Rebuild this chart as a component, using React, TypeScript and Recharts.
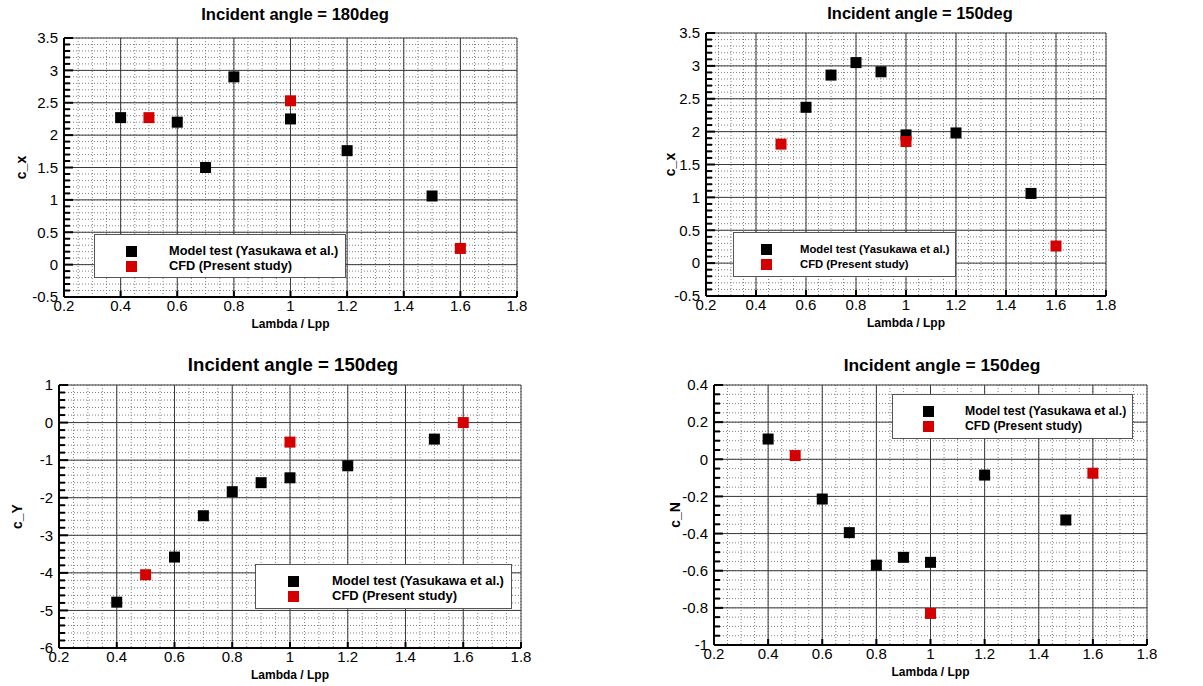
import React from "react";
import {
  ScatterChart,
  Scatter,
  XAxis,
  YAxis,
  CartesianGrid,
  ReferenceLine,
  Legend,
} from "recharts";

const FONT = '"Liberation Sans", Arial, sans-serif';
const RED = "#d40000";
const MODEL_NAME = "Model test (Yasukawa et al.)";
const CFD_NAME = "CFD (Present study)";
const seriesOrder = [MODEL_NAME, CFD_NAME];

// lambda / Lpp values and coefficients
const modelLambdaCx180 = [0.4, 0.6, 0.7, 0.8, 1.0, 1.2, 1.5];
const modelCx180 = [2.27, 2.2, 1.5, 2.9, 2.25, 1.76, 1.06];
const cfdLambda = [0.5, 1.0, 1.6];
const cfdCx180 = [2.27, 2.53, 0.25];

const modelLambdaCx150 = [0.6, 0.7, 0.8, 0.9, 1.0, 1.2, 1.5];
const modelCx150 = [2.37, 2.86, 3.05, 2.91, 1.95, 1.98, 1.06];
const cfdCx150 = [1.81, 1.85, 0.26];

const modelLambda150 = [0.4, 0.6, 0.7, 0.8, 0.9, 1.0, 1.2, 1.5];
const modelCy150 = [-4.78, -3.58, -2.48, -1.84, -1.6, -1.47, -1.15, -0.44];
const cfdCy150 = [-4.05, -0.52, 0.0];
const modelCn150 = [0.109, -0.214, -0.395, -0.57, -0.528, -0.555, -0.085, -0.327];
const cfdCn150 = [0.02, -0.83, -0.075];

// tick labels
const xMajorTicks = [0.2, 0.4, 0.6, 0.8, 1, 1.2, 1.4, 1.6, 1.8];
const cxMajorTicks = [-0.5, 0, 0.5, 1, 1.5, 2, 2.5, 3, 3.5];
const cyMajorTicks = [-6, -5, -4, -3, -2, -1, 0, 1];
const cnMajorTicks = [-1, -0.8, -0.6, -0.4, -0.2, 0, 0.2, 0.4];

const steps = (from: number, to: number, step: number) => {
  const out: number[] = [];
  const n = Math.round((to - from) / step);
  for (let i = 0; i <= n; i++) out.push(Number((from + i * step).toFixed(3)));
  return out;
};
const xMinorTicks = steps(0.2, 1.8, 0.05);

const isIn = (list: number[], v: number) => list.some((m) => Math.abs(m - v) < 1e-6);

const square = (props: any) => (
  <rect x={props.cx - 5.5} y={props.cy - 5.5} width={11} height={11} fill={props.fill} />
);

const renderXTick = (props: any) => {
  const { x, y, payload } = props;
  if (!isIn(xMajorTicks, payload.value)) return <g />;
  return (
    <g>
      <line x1={x} x2={x} y1={y} y2={y - 6} stroke="#000" strokeWidth={2} />
      <text x={x} y={y + 14} textAnchor="middle" fontSize={15} fontFamily={FONT} fill="#000">
        {String(payload.value)}
      </text>
    </g>
  );
};

const renderYTick = (props: any, major: number[]) => {
  const { x, y, payload } = props;
  const isMajor = isIn(major, payload.value);
  return (
    <g>
      <line x1={x} x2={x + (isMajor ? 9 : 6)} y1={y} y2={y} stroke="#000" strokeWidth={2} />
      {isMajor && (
        <text x={x - 6} y={y} dy="0.35em" textAnchor="end" fontSize={15} fontFamily={FONT} fill="#000">
          {String(payload.value)}
        </text>
      )}
    </g>
  );
};

interface LegendCfg {
  x: number;
  y: number;
  w: number;
  h: number;
  marker: number;
  text: number;
  fontSize: number;
}

interface PanelCfg {
  title: string;
  titleX: number;
  titleY: number;
  titleSize: number;
  yLabel: string;
  yLabelGap: number;
  modelX: number[];
  modelY: number[];
  cfdX: number[];
  cfdY: number[];
  yDomain: [number, number];
  yMajor: number[];
  yMinor: number[];
  left: number;
  top: number;
  width: number;
  height: number;
  plotTop: number;
  right: number;
  yAxisWidth: number;
  xAxisHeight: number;
  legend: LegendCfg;
}

function Panel(p: PanelCfg) {
  const modelData = p.modelX.map((x, i) => ({ x, y: p.modelY[i] }));
  const cfdData = p.cfdX.map((x, i) => ({ x, y: p.cfdY[i] }));
  const lg = p.legend;

  const legendContent = (props: any) => {
    const items = [...(props.payload || [])].sort(
      (a: any, b: any) => seriesOrder.indexOf(a.value) - seriesOrder.indexOf(b.value)
    );
    return (
      <div
        style={{
          position: "relative",
          width: lg.w,
          height: lg.h,
          boxSizing: "border-box",
          border: "1px solid #555",
          background: "#fff",
          fontFamily: FONT,
          fontWeight: "bold",
          fontSize: lg.fontSize,
        }}
      >
        {items.map((entry: any, i: number) => (
          <React.Fragment key={i}>
            <div
              style={{
                position: "absolute",
                left: lg.marker - 5.5,
                top: 11 + i * 15,
                width: 11,
                height: 11,
                background: entry.color,
              }}
            />
            <div
              style={{
                position: "absolute",
                left: lg.text,
                top: 8 + i * 15,
                lineHeight: "16px",
                whiteSpace: "nowrap",
              }}
            >
              {entry.value}
            </div>
          </React.Fragment>
        ))}
      </div>
    );
  };

  return (
    <div style={{ position: "absolute", left: p.left, top: p.top, width: p.width, height: p.height }}>
      <div
        style={{
          position: "absolute",
          left: p.titleX - 200,
          top: p.titleY - 11,
          width: 400,
          textAlign: "center",
          lineHeight: "22px",
          fontFamily: FONT,
          fontWeight: "bold",
          fontSize: p.titleSize,
          zIndex: 2,
        }}
      >
        {p.title}
      </div>
      <ScatterChart
        width={p.width}
        height={p.height}
        margin={{ top: p.plotTop, right: p.right, left: 0, bottom: 0 }}
      >
        <CartesianGrid stroke="#808080" strokeDasharray="1 2" />
        {xMajorTicks.map((v) => (
          <ReferenceLine key={"vx" + v} x={v} stroke="#3a3a3a" strokeWidth={1} />
        ))}
        {p.yMajor.map((v) => (
          <ReferenceLine key={"hy" + v} y={v} stroke="#3a3a3a" strokeWidth={1} />
        ))}
        <XAxis
          type="number"
          dataKey="x"
          domain={[0.2, 1.8]}
          ticks={xMinorTicks}
          interval={0}
          tick={renderXTick}
          tickLine={false}
          tickSize={0}
          tickMargin={0}
          height={p.xAxisHeight}
          axisLine={{ stroke: "#000", strokeWidth: 2 }}
          label={(lp: any) => {
            const vb = lp.viewBox;
            return (
              <text
                x={vb.x + vb.width / 2}
                y={vb.y + 31}
                textAnchor="middle"
                fontFamily={FONT}
                fontWeight="bold"
                fontSize={12}
                fill="#000"
              >
                Lambda / Lpp
              </text>
            );
          }}
        />
        <YAxis
          type="number"
          dataKey="y"
          domain={p.yDomain}
          ticks={p.yMinor}
          interval={0}
          tick={(tp: any) => renderYTick(tp, p.yMajor)}
          tickLine={false}
          tickSize={0}
          tickMargin={0}
          width={p.yAxisWidth}
          axisLine={{ stroke: "#000", strokeWidth: 2 }}
          label={(lp: any) => {
            const vb = lp.viewBox;
            const cx = vb.x + vb.width - p.yLabelGap;
            const cy = vb.y + vb.height / 2;
            return (
              <text
                x={cx}
                y={cy}
                dy="0.35em"
                transform={`rotate(-90 ${cx} ${cy})`}
                textAnchor="middle"
                fontFamily={FONT}
                fontWeight="bold"
                fontSize={14}
                fill="#000"
              >
                {p.yLabel}
              </text>
            );
          }}
        />
        <Legend
          layout="vertical"
          align="center"
          verticalAlign="middle"
          wrapperStyle={{ left: lg.x, top: lg.y, width: lg.w, height: lg.h }}
          content={legendContent}
        />
        <Scatter
          name={MODEL_NAME}
          data={modelData}
          fill="#000"
          shape={square}
          isAnimationActive={false}
        />
        <Scatter
          name={CFD_NAME}
          data={cfdData}
          fill={RED}
          shape={square}
          isAnimationActive={false}
        />
      </ScatterChart>
    </div>
  );
}

export default function App() {
  return (
    <div
      style={{
        position: "absolute",
        left: 0,
        top: 0,
        width: 1203,
        height: 686,
        background: "#fff",
        overflow: "hidden",
      }}
    >
      <Panel
        title="Incident angle = 180deg"
        titleX={295}
        titleY={15}
        titleSize={16.6}
        yLabel="c_x"
        yLabelGap={43}
        modelX={modelLambdaCx180}
        modelY={modelCx180}
        cfdX={cfdLambda}
        cfdY={cfdCx180}
        yDomain={[-0.5, 3.5]}
        yMajor={cxMajorTicks}
        yMinor={steps(-0.5, 3.5, 0.1)}
        left={0}
        top={0}
        width={600}
        height={335}
        plotTop={38}
        right={83}
        yAxisWidth={64}
        xAxisHeight={38}
        legend={{ x: 94, y: 234, w: 252, h: 44, marker: 36, text: 74, fontSize: 12.8 }}
      />
      <Panel
        title="Incident angle = 150deg"
        titleX={320}
        titleY={13}
        titleSize={16.4}
        yLabel="c_x"
        yLabelGap={36}
        modelX={modelLambdaCx150}
        modelY={modelCx150}
        cfdX={cfdLambda}
        cfdY={cfdCx150}
        yDomain={[-0.5, 3.5]}
        yMajor={cxMajorTicks}
        yMinor={steps(-0.5, 3.5, 0.1)}
        left={600}
        top={0}
        width={603}
        height={335}
        plotTop={33}
        right={97}
        yAxisWidth={106}
        xAxisHeight={39}
        legend={{ x: 133, y: 232, w: 223, h: 45, marker: 32, text: 66, fontSize: 11.3 }}
      />
      <Panel
        title="Incident angle = 150deg"
        titleX={293}
        titleY={30}
        titleSize={18.6}
        yLabel="c_Y"
        yLabelGap={42}
        modelX={modelLambda150}
        modelY={modelCy150}
        cfdX={cfdLambda}
        cfdY={cfdCy150}
        yDomain={[-6, 1]}
        yMajor={cyMajorTicks}
        yMinor={steps(-6, 1, 0.2)}
        left={0}
        top={335}
        width={600}
        height={351}
        plotTop={50}
        right={79}
        yAxisWidth={59}
        xAxisHeight={38}
        legend={{ x: 255, y: 229, w: 257, h: 45, marker: 37, text: 76, fontSize: 13 }}
      />
      <Panel
        title="Incident angle = 150deg"
        titleX={342}
        titleY={30}
        titleSize={17.4}
        yLabel="c_N"
        yLabelGap={39}
        modelX={modelLambda150}
        modelY={modelCn150}
        cfdX={cfdLambda}
        cfdY={cfdCn150}
        yDomain={[-1, 0.4]}
        yMajor={cnMajorTicks}
        yMinor={steps(-1, 0.4, 0.05)}
        left={600}
        top={335}
        width={603}
        height={351}
        plotTop={50}
        right={56}
        yAxisWidth={114}
        xAxisHeight={41}
        legend={{ x: 292, y: 59, w: 241, h: 45, marker: 35, text: 72, fontSize: 12.2 }}
      />
    </div>
  );
}
